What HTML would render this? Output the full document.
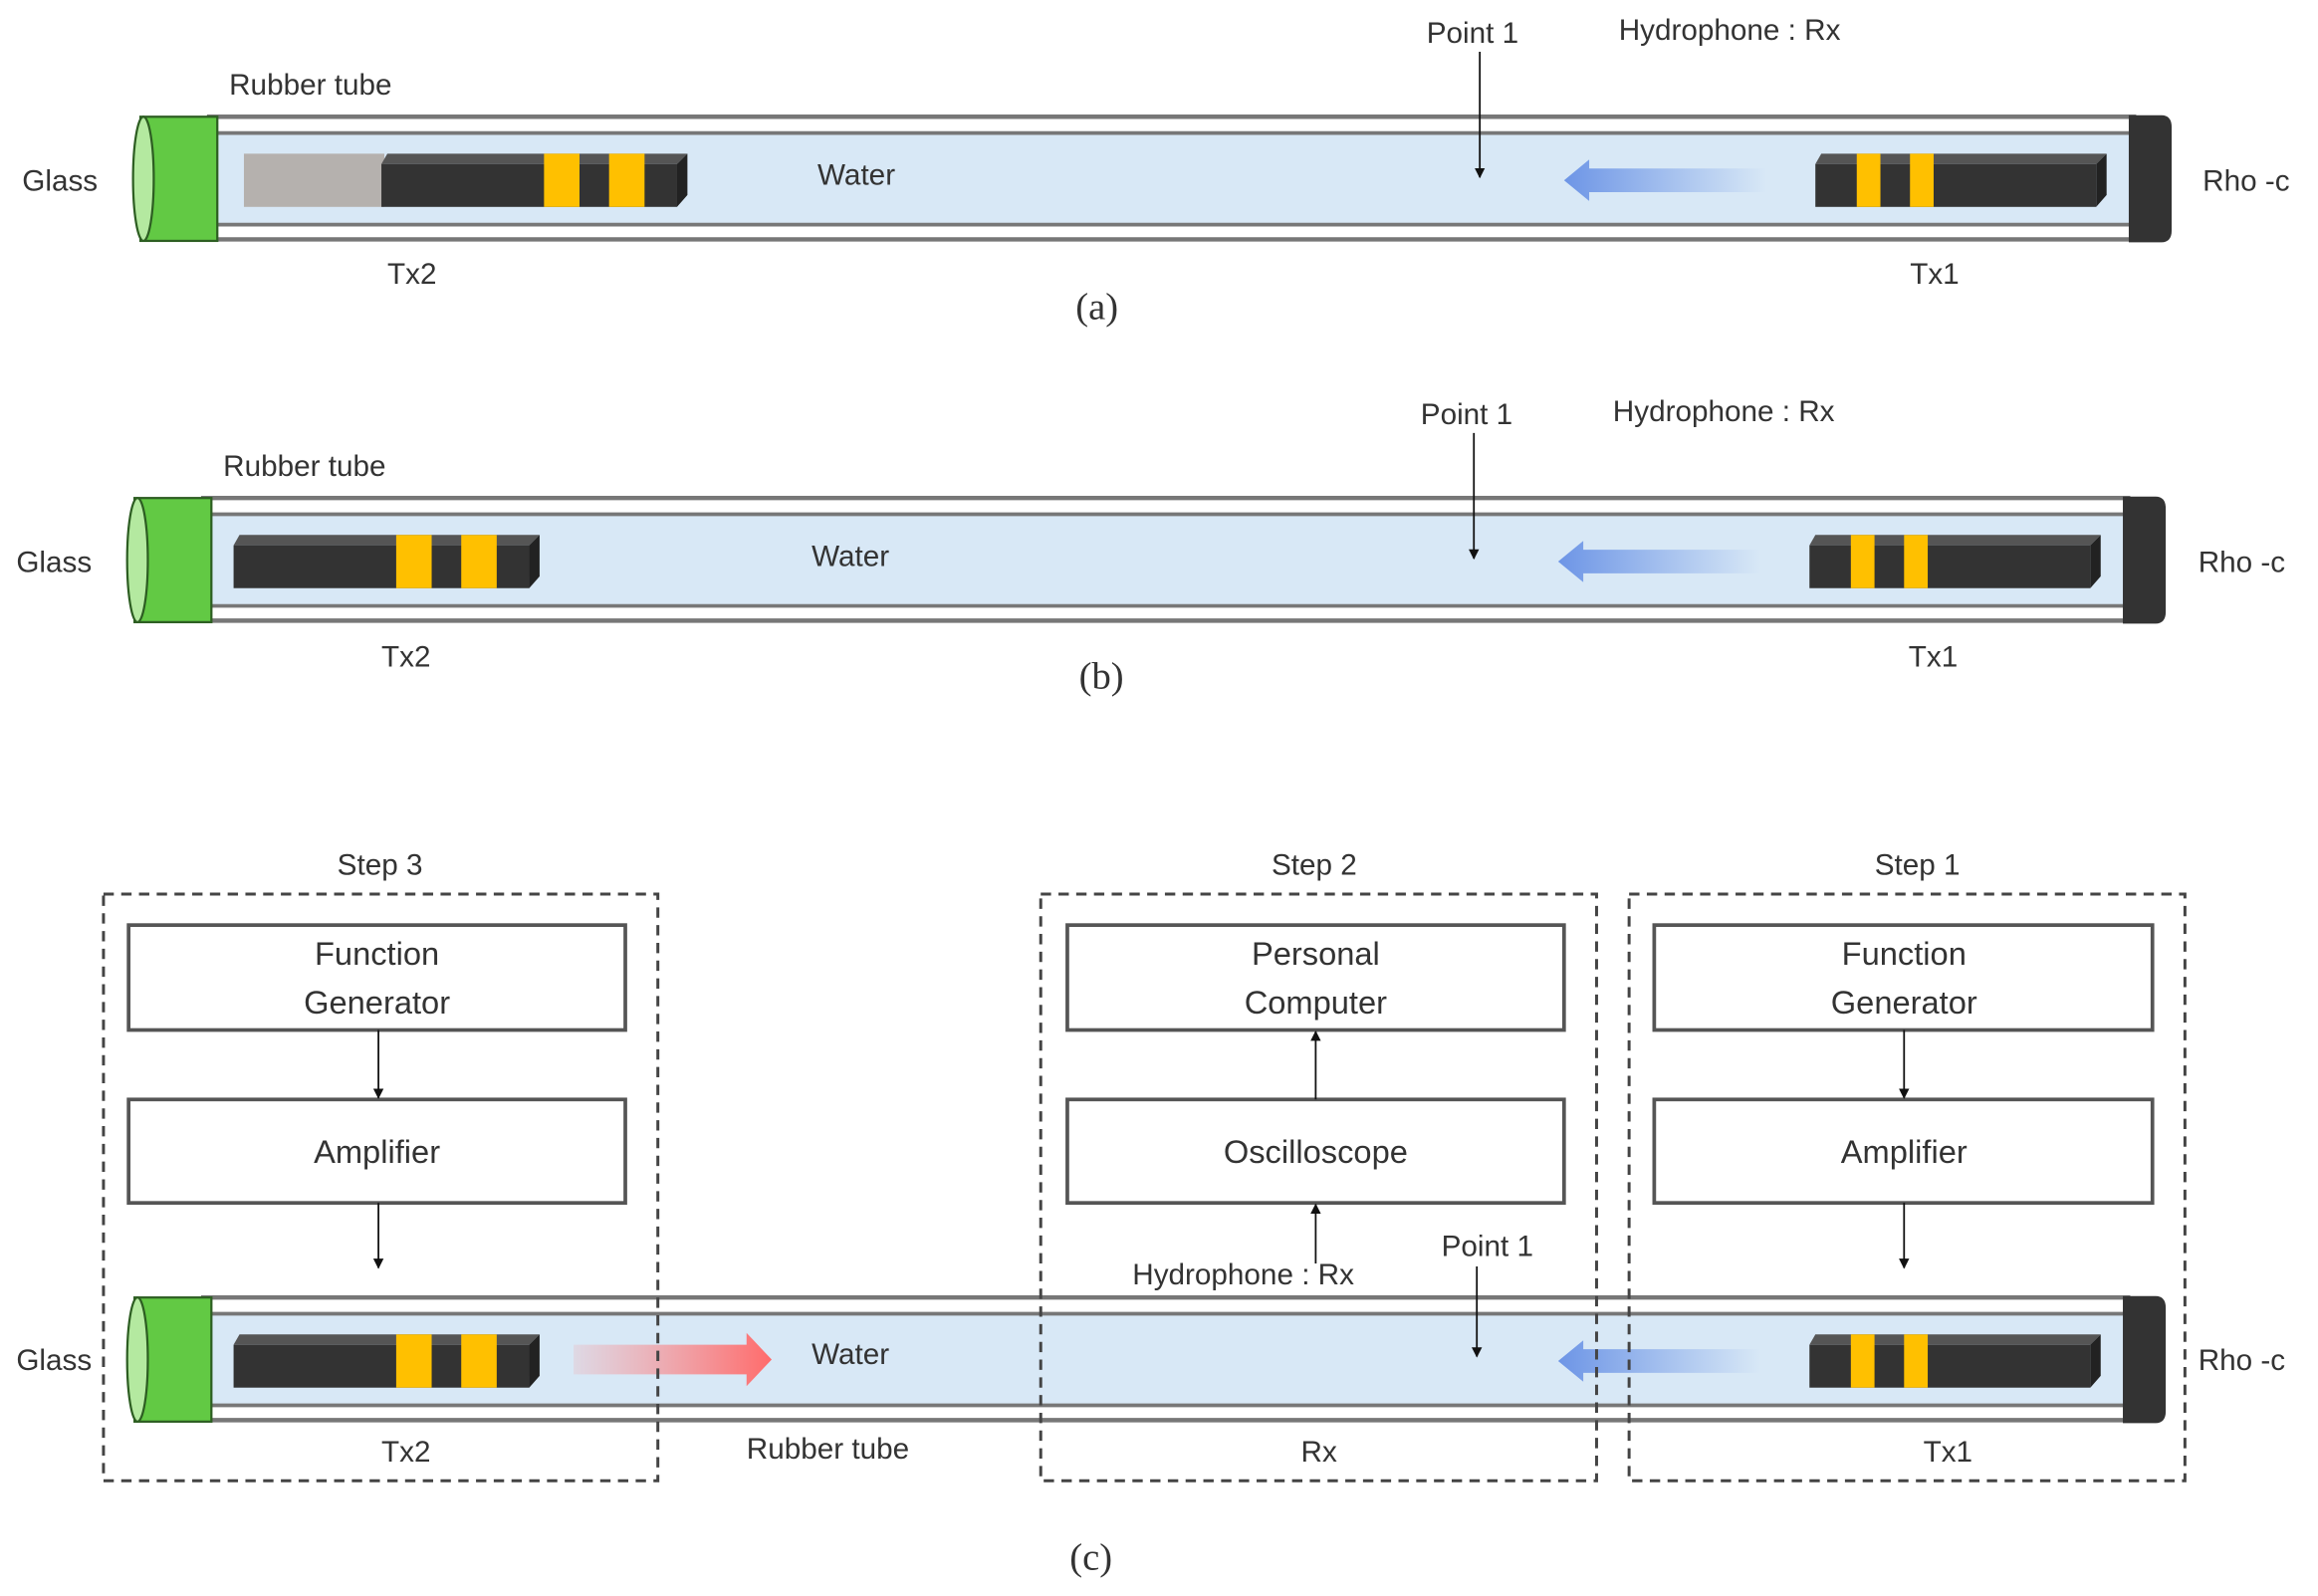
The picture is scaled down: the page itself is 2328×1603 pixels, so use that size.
<!DOCTYPE html>
<html><head><meta charset="utf-8"><style>
html,body{margin:0;padding:0;background:#fff}
svg{display:block}
text{font-family:"Liberation Sans",sans-serif;fill:#333}
</style></head><body>
<svg width="2328" height="1603" viewBox="0 0 1568 1080" preserveAspectRatio="none" xmlns="http://www.w3.org/2000/svg">
<defs>
<linearGradient id="blue" x1="0" x2="1" y1="0" y2="0"><stop offset="0" stop-color="#6d95e6"/><stop offset="1" stop-color="#6d95e6" stop-opacity="0"/></linearGradient>
<linearGradient id="red" x1="0" x2="1" y1="0" y2="0"><stop offset="0" stop-color="#ff8080" stop-opacity="0.15"/><stop offset="1" stop-color="#ff6b6b"/></linearGradient>
<g id="shell">
  <rect x="140" y="79" width="1305" height="84" fill="#fff"/>
  <rect x="140" y="91" width="1305" height="60" fill="#d8e8f6"/>
  <line x1="140" y1="79" x2="1445" y2="79" stroke="#777" stroke-width="3"/>
  <line x1="140" y1="90" x2="1445" y2="90" stroke="#777" stroke-width="2.5"/>
  <line x1="140" y1="152" x2="1445" y2="152" stroke="#777" stroke-width="2.5"/>
  <line x1="140" y1="162" x2="1445" y2="162" stroke="#777" stroke-width="3"/>
  <rect x="95" y="79" width="52" height="84" fill="#62c944" stroke="#2d5e22" stroke-width="1.5"/>
  <ellipse cx="97" cy="121" rx="7" ry="42" fill="#b4e9a0" stroke="#2d5e22" stroke-width="1.5"/>
  <path d="M1440 78 H1462 Q1469 78 1469 86 V156 Q1469 164 1462 164 H1440 Z" fill="#333"/>
  <polygon points="1058,122 1075,108 1075,114 1195,114 1195,130 1075,130 1075,136" fill="url(#blue)"/>
  <polygon points="1232,104 1425,104 1418,111 1228,111" fill="#555"/>
  <polygon points="1425,104 1425,132 1418,140 1418,111" fill="#222"/>
  <rect x="1228" y="111" width="190" height="29" fill="#333"/>
  <rect x="1256" y="104" width="16" height="36" fill="#ffc000"/>
  <rect x="1292" y="104" width="16" height="36" fill="#ffc000"/>
</g>
<g id="tx2">
  <polygon points="166,104 369,104 362,111 162,111" fill="#555"/>
  <polygon points="369,104 369,132 362,140 362,111" fill="#222"/>
  <rect x="162" y="111" width="200" height="29" fill="#333"/>
  <rect x="272" y="104" width="24" height="36" fill="#ffc000"/>
  <rect x="316" y="104" width="24" height="36" fill="#ffc000"/>
</g>
<marker id="ah" viewBox="0 0 10 10" refX="9" refY="5" markerWidth="7" markerHeight="9" orient="auto" markerUnits="userSpaceOnUse"><path d="M0 0 L10 5 L0 10 Z" fill="#111"/></marker>
</defs>

<!-- (a) -->
<use href="#shell"/>
<rect x="165" y="104" width="95" height="36" fill="#b5b1ae"/>
<g transform="translate(96,0)"><use href="#tx2"/></g>
<text x="155" y="64" font-size="20">Rubber tube</text>
<text x="15" y="129" font-size="20">Glass</text>
<text x="553" y="125" font-size="20">Water</text>
<text x="965" y="29" font-size="20">Point 1</text>
<text x="1095" y="27" font-size="20">Hydrophone : Rx</text>
<line x1="1001" y1="35" x2="1001" y2="120" stroke="#111" stroke-width="1.2" marker-end="url(#ah)"/>
<text x="1490" y="129" font-size="20">Rho -c</text>
<text x="262" y="192" font-size="20">Tx2</text>
<text x="1292" y="192" font-size="20">Tx1</text>
<text x="742" y="216" font-size="26" text-anchor="middle" style="font-family:'Liberation Serif',serif">(a)</text>

<!-- (b) -->
<g transform="translate(-4,258)">
<use href="#shell"/>
<use href="#tx2"/>
</g>
<text x="151" y="322" font-size="20">Rubber tube</text>
<text x="11" y="387" font-size="20">Glass</text>
<text x="549" y="383" font-size="20">Water</text>
<text x="961" y="287" font-size="20">Point 1</text>
<text x="1091" y="285" font-size="20">Hydrophone : Rx</text>
<line x1="997" y1="293" x2="997" y2="378" stroke="#111" stroke-width="1.2" marker-end="url(#ah)"/>
<text x="1487" y="387" font-size="20">Rho -c</text>
<text x="258" y="451" font-size="20">Tx2</text>
<text x="1291" y="451" font-size="20">Tx1</text>
<text x="745" y="466" font-size="26" text-anchor="middle" style="font-family:'Liberation Serif',serif">(b)</text>

<!-- (c) -->
<g transform="translate(-4,799)">
<use href="#shell"/>
<use href="#tx2"/>
</g>
<polygon points="388,910 505,910 505,902 522,920 505,938 505,930 388,930" fill="url(#red)"/>
<g fill="none" stroke="#444" stroke-width="2" stroke-dasharray="7,5">
<rect x="70" y="605" width="375" height="397"/>
<rect x="704" y="605" width="376" height="397"/>
<rect x="1102" y="605" width="376" height="397"/>
</g>
<g fill="#fff" stroke="#555" stroke-width="2.5">
<rect x="87" y="626" width="336" height="71"/>
<rect x="87" y="744" width="336" height="70"/>
<rect x="722" y="626" width="336" height="71"/>
<rect x="722" y="744" width="336" height="70"/>
<rect x="1119" y="626" width="337" height="71"/>
<rect x="1119" y="744" width="337" height="70"/>
</g>
<g stroke="#111" stroke-width="1.2">
<line x1="256" y1="697" x2="256" y2="743" marker-end="url(#ah)"/>
<line x1="256" y1="814" x2="256" y2="858" marker-end="url(#ah)"/>
<line x1="1288" y1="697" x2="1288" y2="743" marker-end="url(#ah)"/>
<line x1="1288" y1="814" x2="1288" y2="858" marker-end="url(#ah)"/>
<line x1="890" y1="744" x2="890" y2="698" marker-end="url(#ah)"/>
<line x1="890" y1="855" x2="890" y2="815" marker-end="url(#ah)"/>
<line x1="999" y1="857" x2="999" y2="918" marker-end="url(#ah)"/>
</g>
<g font-size="20">
<text x="257" y="592" text-anchor="middle">Step 3</text>
<text x="889" y="592" text-anchor="middle">Step 2</text>
<text x="1297" y="592" text-anchor="middle">Step 1</text>
</g>
<g font-size="22" text-anchor="middle">
<text x="255" y="653">Function</text>
<text x="255" y="686">Generator</text>
<text x="255" y="787">Amplifier</text>
<text x="890" y="653">Personal</text>
<text x="890" y="686">Computer</text>
<text x="890" y="787">Oscilloscope</text>
<text x="1288" y="653">Function</text>
<text x="1288" y="686">Generator</text>
<text x="1288" y="787">Amplifier</text>
</g>
<text x="11" y="927" font-size="20">Glass</text>
<text x="549" y="923" font-size="20">Water</text>
<text x="766" y="869" font-size="20">Hydrophone : Rx</text>
<text x="975" y="850" font-size="20">Point 1</text>
<text x="1487" y="927" font-size="20">Rho -c</text>
<text x="258" y="989" font-size="20">Tx2</text>
<text x="505" y="987" font-size="20">Rubber tube</text>
<text x="880" y="989" font-size="20">Rx</text>
<text x="1301" y="989" font-size="20">Tx1</text>
<text x="738" y="1062" font-size="26" text-anchor="middle" style="font-family:'Liberation Serif',serif">(c)</text>
</svg>
</body></html>
